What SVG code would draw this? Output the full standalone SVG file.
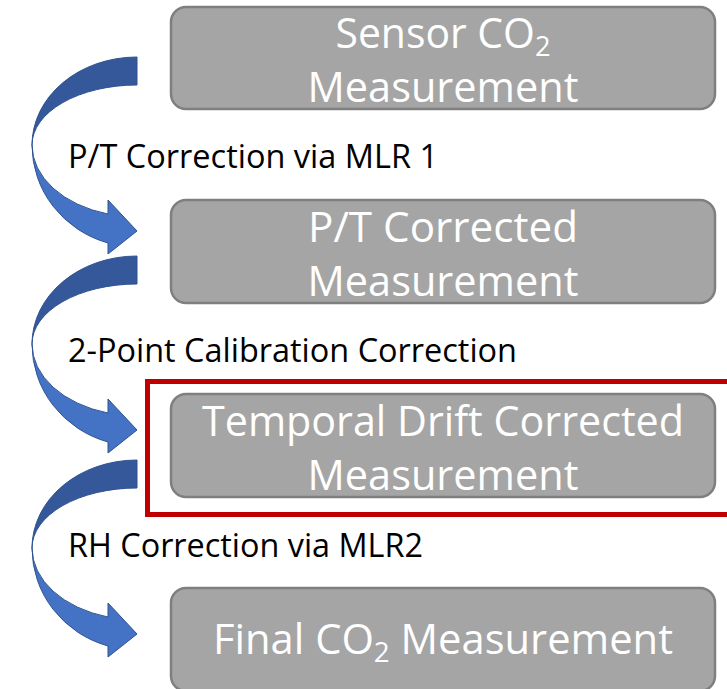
<svg xmlns="http://www.w3.org/2000/svg" xmlns:xlink="http://www.w3.org/1999/xlink" width="727" height="689" viewBox="0 0 727 689">
  <style>
    .box { fill: #a5a5a5; stroke: #7f7f7f; stroke-width: 2.5; }
    .btxt { fill: #ffffff; font-family: "Open Sans", "Noto Sans", "Liberation Sans", sans-serif; font-size: 42px; text-anchor: middle; }
    .lbl { fill: #000000; font-family: "Open Sans", "Noto Sans", "Liberation Sans", sans-serif; font-size: 33px; }
    .sub { font-size: 28px; }
    .back { fill: #34589a; stroke: #2f528f; stroke-width: 1; }
    .front { fill: #4472c4; stroke: #2f528f; stroke-width: 1; }
    .hl { fill: none; stroke: #c00000; stroke-width: 5; }
  </style>
  <defs>
    <g id="curvedArrow">
      <path class="back" d="M137,57 A105,88 0 0 0 32,145 A105,60 0 0 1 137,85 Z"/>
      <path class="front" d="M32,145 A105,71.8 0 0 0 108,214 L108,200 L137,231 L108,254 L108,243 A105,102 0 0 1 32,145 Z"/>
    </g>
  </defs>

  <rect id="highlight" class="hl" x="147.5" y="381.5" width="620" height="133"/>

  <g id="connectors">
    <use xlink:href="#curvedArrow"/>
    <use xlink:href="#curvedArrow" transform="translate(0,199)"/>
    <use xlink:href="#curvedArrow" transform="translate(0,403)"/>
    <text class="lbl" x="68" y="168" textLength="370" lengthAdjust="spacingAndGlyphs">P/T Correction via MLR 1</text>
    <text class="lbl" x="68" y="362" textLength="449" lengthAdjust="spacingAndGlyphs">2-Point Calibration Correction</text>
    <text class="lbl" x="68" y="557" textLength="355" lengthAdjust="spacingAndGlyphs">RH Correction via MLR2</text>
  </g>

  <g id="node-sensor">
    <rect class="box" x="171" y="7" width="544" height="102" rx="15"/>
    <text class="btxt" x="443" y="48" textLength="215" lengthAdjust="spacingAndGlyphs">Sensor CO<tspan class="sub" dy="8">2</tspan></text>
    <text class="btxt" x="443" y="102" textLength="271" lengthAdjust="spacingAndGlyphs">Measurement</text>
  </g>

  <g id="node-pt">
    <rect class="box" x="171" y="200" width="544" height="103" rx="15"/>
    <text class="btxt" x="443" y="242" textLength="270" lengthAdjust="spacingAndGlyphs">P/T Corrected</text>
    <text class="btxt" x="443" y="296" textLength="271" lengthAdjust="spacingAndGlyphs">Measurement</text>
  </g>

  <g id="node-temporal">
    <rect class="box" x="171" y="394" width="544" height="103" rx="15"/>
    <text class="btxt" x="443" y="436" textLength="482" lengthAdjust="spacingAndGlyphs">Temporal Drift Corrected</text>
    <text class="btxt" x="443" y="490" textLength="271" lengthAdjust="spacingAndGlyphs">Measurement</text>
  </g>

  <g id="node-final">
    <rect class="box" x="171" y="588" width="544" height="103" rx="15"/>
    <text class="btxt" x="443" y="654" textLength="460" lengthAdjust="spacingAndGlyphs">Final CO<tspan class="sub" dy="8">2</tspan><tspan dy="-8"> Measurement</tspan></text>
  </g>
</svg>
